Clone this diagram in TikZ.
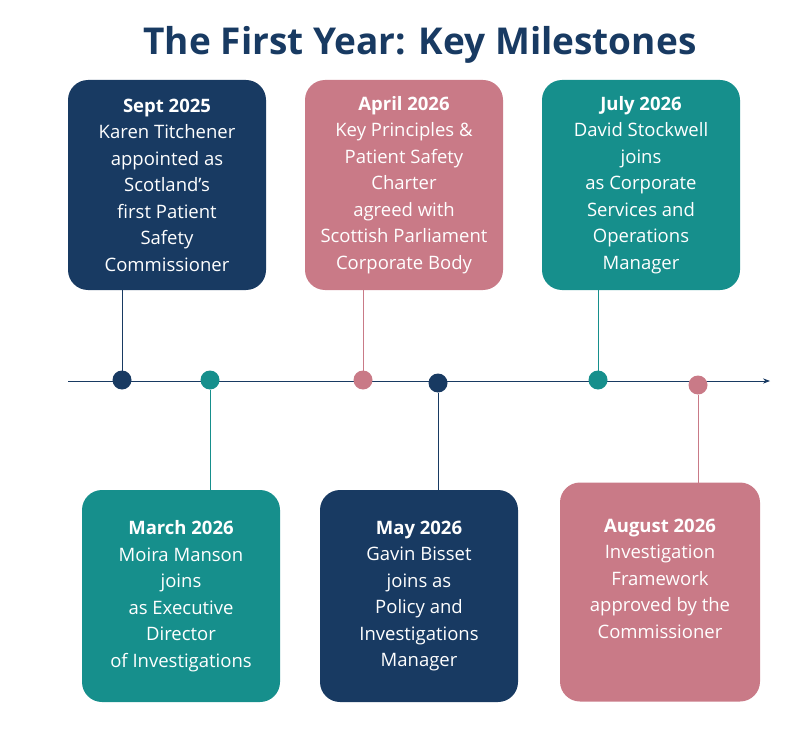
\documentclass[tikz,border=0pt]{standalone}
\usepackage{fontspec}
\setmainfont{Open Sans}
\usetikzlibrary{arrows.meta}
\definecolor{navy}{HTML}{183A62}
\definecolor{rose}{HTML}{C97A87}
\definecolor{teal}{HTML}{168F8C}
\begin{document}
\begin{tikzpicture}[x=1pt, y=-1pt,
    every node/.style = {inner sep=0pt, outer sep=0pt},
          box/.style  = {rounded corners=20pt, minimum width=198pt, minimum height=210pt,
                         text=white, font=\fontsize{18.5}{26.5}\selectfont, align=center},
          dot/.style  = {circle, minimum size=19pt},
          tick/.style = {thin}]%
  \useasboundingbox (0,0) rectangle (808,730);
  % title
  \node (title) at (420,45) {\fontsize{37}{40}\selectfont\bfseries\color{navy}The First Year: Key Milestones};
  % axis
  \coordinate (start) at (68,381);
  \coordinate (stop)  at (770,381);
  \draw [navy, thick, -{Stealth[length=7pt]}] (start) -- (stop);
  % upper boxes
  \node [box, fill=navy] (sept)  at (167,185) {\textbf{Sept 2025}\\Karen Titchener\\appointed as\\Scotland’s\\first Patient\\Safety\\Commissioner};
  \node [box, fill=rose] (april) at (404,185) {\textbf{April 2026}\\Key Principles \&\\Patient Safety\\Charter\\agreed with\\Scottish Parliament\\Corporate Body};
  \node [box, fill=teal] (july)  at (641,185) {\textbf{July 2026}\\David Stockwell\\joins\\as Corporate\\Services and\\Operations\\Manager};
  % lower boxes
  \node [box, fill=teal, minimum height=212pt] (march) at (181,596) {\textbf{March 2026}\\Moira Manson\\joins\\as Executive\\Director\\of Investigations};
  \node [box, fill=navy, minimum height=212pt] (may)   at (419,596) {\textbf{May 2026}\\Gavin Bisset\\joins as\\Policy and\\Investigations\\Manager};
  \node [box, fill=rose, minimum width=200pt, minimum height=219pt] (august) at (660,592) {\textbf{August 2026}\\Investigation\\Framework\\approved by the\\Commissioner\\\mbox{}};
  % dots
  \node [dot, fill=navy] (d1) at (122,380) {};
  \node [dot, fill=teal] (d2) at (210,380) {};
  \node [dot, fill=rose] (d3) at (363,380) {};
  \node [dot, fill=navy] (d4) at (438,383) {};
  \node [dot, fill=teal] (d5) at (598,380) {};
  \node [dot, fill=rose] (d6) at (698,385) {};
  % connectors
  \draw [tick, navy] (d1 |- sept.south)  -- (d1);
  \draw [tick, rose] (d3 |- april.south) -- (d3);
  \draw [tick, teal] (d5 |- july.south)  -- (d5);
  \draw [tick, teal] (d2) -- (d2 |- march.north);
  \draw [tick, navy] (d4) -- (d4 |- may.north);
  \draw [tick, rose] (d6) -- (d6 |- august.north);
\end{tikzpicture}
\end{document}
